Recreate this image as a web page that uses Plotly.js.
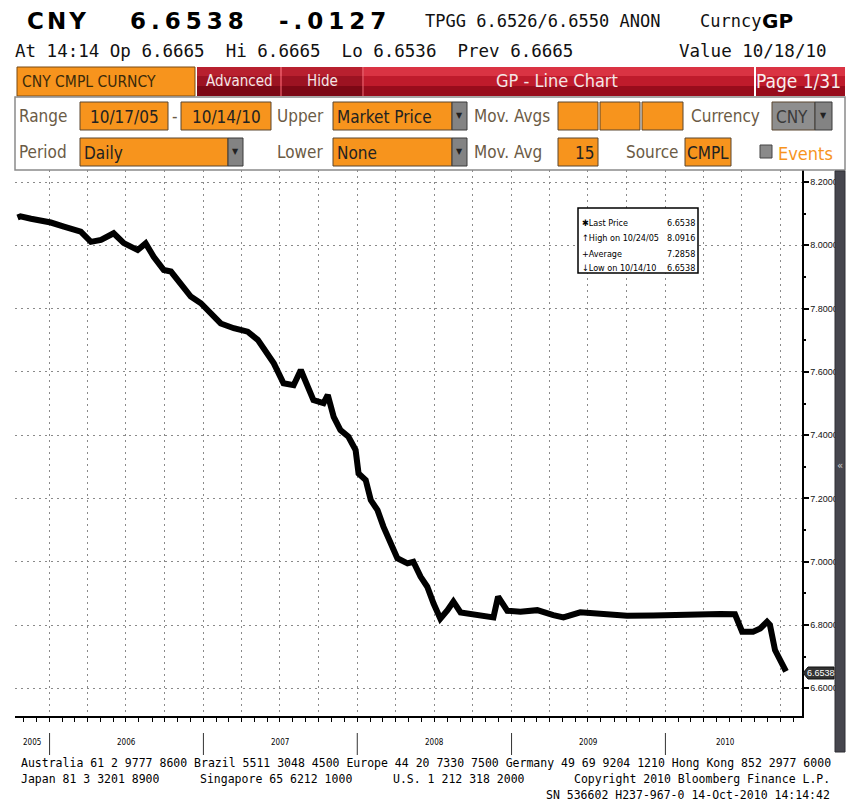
<!DOCTYPE html>
<html><head><meta charset="utf-8">
<script src="https://cdn.plot.ly/plotly-3.0.1.min.js"></script>
<style>html,body{margin:0;padding:0;background:#fff;overflow:hidden}#chart{width:849px;height:802px}</style>
</head><body><div id="chart"></div>
<script>
// ---- data ----
const dates = ['2005-10-17','2005-10-24','2005-11-18','2005-12-10','2006-01-04','2006-02-04','2006-03-16','2006-04-09','2006-05-03','2006-06-02','2006-06-26','2006-07-29','2006-08-17','2006-09-05','2006-09-29','2006-10-16','2006-11-08','2006-12-02','2006-12-26','2007-01-18','2007-02-11','2007-03-14','2007-04-16','2007-05-10','2007-06-03','2007-06-17','2007-07-10','2007-08-03','2007-08-20','2007-09-05','2007-09-19','2007-10-13','2007-10-23','2007-11-06','2007-11-22','2007-12-11','2007-12-28','2008-01-04','2008-01-21','2008-02-02','2008-02-18','2008-03-03','2008-03-20','2008-04-05','2008-04-29','2008-05-13','2008-05-30','2008-06-15','2008-06-30','2008-07-16','2008-08-02','2008-08-16','2008-09-02','2008-10-02','2008-11-04','2008-11-19','2008-11-30','2008-12-22','2009-01-22','2009-03-03','2009-04-10','2009-05-04','2009-06-13','2009-08-07','2009-10-02','2009-12-03','2010-02-22','2010-05-11','2010-06-15','2010-07-02','2010-07-28','2010-08-14','2010-08-30','2010-09-06','2010-09-18','2010-09-30','2010-10-14'];
const prices = [8.088,8.0916,8.084,8.080,8.072,8.059,8.043,8.011,8.017,8.038,8.007,7.985,8.006,7.964,7.922,7.917,7.880,7.838,7.817,7.785,7.753,7.738,7.727,7.701,7.659,7.627,7.564,7.558,7.606,7.553,7.511,7.501,7.527,7.458,7.416,7.395,7.353,7.279,7.258,7.195,7.163,7.111,7.058,7.011,6.995,7.000,6.953,6.921,6.868,6.820,6.847,6.874,6.840,6.834,6.831,6.824,6.890,6.845,6.842,6.847,6.831,6.824,6.840,6.836,6.829,6.830,6.834,6.835,6.834,6.779,6.779,6.789,6.810,6.800,6.721,6.689,6.6538];
const yTickVals = [6.6,6.8,7.0,7.2,7.4,7.6,7.8,8.0,8.2];
const yearLabels = ['2005','2006','2007','2008','2009','2010'];
const yearStarts = ['2006-01-01','2007-01-01','2008-01-01','2009-01-01','2010-01-01'];
const yearMids = ['2005-11-21','2006-07-02','2007-07-02','2008-07-02','2009-07-02','2010-05-23'];
const legendLabels = ['Last Price','High on 10/24/05','Average','Low on 10/14/10'];
const legendValues = ['6.6538','8.0916','7.2858','6.6538'];
const lastPrice = '6.6538';

// ---- geometry helpers (pixel -> paper) ----
const L=15,R=802,T=170,B=716;
const X=px=>(px-L)/(R-L), Y=py=>(B-py)/(B-T);
const shapes=[], annotations=[];
const NARROW='"Liberation Sans Narrow","DejaVu Sans Condensed","Arial Narrow",sans-serif';
const MONO='"DejaVu Sans Mono","Liberation Mono",monospace';
const BOLD='"DejaVu Sans",Verdana,sans-serif';
const LAB='#6b5b45';
function rect(x0,y0,x1,y1,fill,line,lw){shapes.push({type:'rect',xref:'paper',yref:'paper',x0:X(x0),x1:X(x1),y0:Y(y1),y1:Y(y0),fillcolor:fill,line:{color:line||fill,width:lw===undefined?1:lw},layer:'above'});}
function vline(x,y0,y1,c,w){shapes.push({type:'line',xref:'paper',yref:'paper',x0:X(x),x1:X(x),y0:Y(y0),y1:Y(y1),line:{color:c,width:w},layer:'above'});}
function txt(t,px,py,size,color,family,anchor){annotations.push({text:t,x:X(px),y:Y(py),xref:'paper',yref:'paper',xanchor:anchor||'left',yanchor:'middle',showarrow:false,borderpad:0,font:{size:size,color:color,family:family}});}
const nb=s=>s.replace(/ /g,'\u00a0');

// ---- header ----
txt('<b><span style="letter-spacing:3px">CNY</span></b>',26,21,23,'#000',BOLD);
txt('<b><span style="letter-spacing:5px">6.6538</span></b>',129,21,23,'#000',BOLD);
txt('<b><span style="letter-spacing:5px">-.0127</span></b>',278,21,23,'#000',BOLD);
txt(nb('TPGG 6.6526/6.6550 ANON'),424,21,17,'#111',MONO);
txt('Curncy',699,21,17,'#111',MONO);
txt('<b>GP</b>',761,21,20,'#000',BOLD);
txt(nb('At 14:14 Op 6.6665  Hi 6.6665  Lo 6.6536  Prev 6.6665'),14,51,17.5,'#111',MONO);
txt(nb('Value 10/18/10'),678,51,17.5,'#111',MONO);

// ---- red bar ----
rect(17,67,195,96,'#f7941d','#7a4a12',1);
txt('CNY CMPL CURNCY',21,82,15.5,'#3b2a0a',NARROW);
rect(197,67,845,76,'#da3343','#da3343',0);
rect(197,76,845,86,'#bf1b2c','#bf1b2c',0);
rect(197,86,845,96,'#980c1c','#980c1c',0);
rect(197,67,280,76,'#b8202f','#b8202f',0);rect(197,76,280,86,'#9c1322','#9c1322',0);rect(197,86,280,96,'#7c0815','#7c0815',0);
rect(282,67,362,76,'#b8202f','#b8202f',0);rect(282,76,362,86,'#9c1322','#9c1322',0);rect(282,86,362,96,'#7c0815','#7c0815',0);
vline(281,67,96,'#e46a74',1);vline(363,67,96,'#e46a74',1);
vline(755,67,96,'#ffffff',2);
txt('Advanced',239,81,15,'#f4e6e6',NARROW,'center');
txt('Hide',322,81,15,'#f4e6e6',NARROW,'center');
txt('GP - Line Chart',557,81,18,'#f4e6e6',NARROW,'center');
txt('Page 1/31',798,81,19,'#f8eeee',NARROW,'center');

// ---- control panel ----
const FS=17;
rect(15,97,845,170,'#ffffff','#8a8a8a',1.5);
function box(x0,y0,x1,y1,t,anchor,fill,tc){rect(x0,y0,x1,y1,fill||'#f7941d','#5a4630',1);if(t){const px=anchor==='center'?(x0+x1)/2:anchor==='right'?x1-3:x0+3;txt(t,px,(y0+y1)/2+1,FS,tc||'#222',NARROW,anchor||'left');}}
function dd(x0,y0,x1,y1){rect(x0,y0,x1,y1,'#838383','#3a3a3a',1);txt('▼',(x0+x1)/2,(y0+y1)/2,8,'#222',BOLD,'center');}
// row a
txt('Range',18,116,FS,LAB,NARROW);
box(80,102,168,130,'10/17/05','center');
txt('-',175,116,FS,LAB,NARROW,'center');
box(181,102,271,130,'10/14/10','center');
txt('Upper',276,116,FS,LAB,NARROW);
box(333,102,452,130,'Market Price','left');dd(452,102,467,130);
txt('Mov. Avgs',473,116,FS,LAB,NARROW);
box(558,102,598,130);box(600,102,640,130);box(642,102,683,130);
txt('Currency',690,116,FS,LAB,NARROW);
box(772,102,815,130,'CNY','left','#8e8e8e','#3a3a3a');dd(815,102,832,130);
// row b
txt('Period',18,152,FS,LAB,NARROW);
box(80,138,228,166,'Daily','left');dd(228,138,243,166);
txt('Lower',276,152,FS,LAB,NARROW);
box(333,138,452,166,'None','left');dd(452,138,467,166);
txt('Mov. Avg',473,152,FS,LAB,NARROW);
box(558,138,598,166,'15','right');
txt('Source',625,152,FS,LAB,NARROW);
box(685,138,731,166,'CMPL','center');
rect(760,145,772,158,'#8a8a8a','#444',1);
txt('Events',777,153,FS+1,'#f7941d',NARROW);

// ---- scrollbar on right ----
rect(835,171,845,752,'#46464e','#2e2e34',1);
txt('«',840,465,10,'#cfcfcf',BOLD,'center');

// ---- legend box ----
rect(578,208,698,273,'#ffffff','#000',1.5);
const legendSym=['✱','↑','+','↓'];
const legendY=[223,238,254,268];
legendLabels.forEach((s,i)=>{txt(legendSym[i]+s,581,legendY[i],9,'#000',NARROW);txt(legendValues[i],696,legendY[i],9,'#000',NARROW,'right');});

// ---- last price marker ----
shapes.push({type:'path',xref:'paper',yref:'paper',layer:'above',
  path:`M ${X(803)} ${Y(673)} L ${X(808)} ${Y(667)} L ${X(834)} ${Y(667)} L ${X(834)} ${Y(679)} L ${X(808)} ${Y(679)} Z`,
  fillcolor:'#333',line:{color:'#111',width:1}});
txt(lastPrice,821,673,9,'#fff','"Liberation Sans",Arial,sans-serif','center');

// ---- year labels + separators ----
yearLabels.forEach((y,i)=>annotations.push({text:y,x:yearMids[i],xref:'x',y:Y(742),yref:'paper',showarrow:false,yanchor:'middle',font:{size:8,color:'#000',family:NARROW}}));
yearStarts.forEach(d=>shapes.push({type:'line',xref:'x',yref:'paper',x0:d,x1:d,y0:Y(733),y1:Y(755),line:{color:'#333',width:1},layer:'above'}));

// ---- footer ----
txt(nb('Australia 61 2 9777 8600 Brazil 5511 3048 4500 Europe 44 20 7330 7500 Germany 49 69 9204 1210 Hong Kong 852 2977 6000'),20,763,11.5,'#000',MONO);
txt(nb('Japan 81 3 3201 8900'),20,779,11.5,'#000',MONO);
txt(nb('Singapore 65 6212 1000'),199,779,11.5,'#000',MONO);
txt(nb('U.S. 1 212 318 2000'),392,779,11.5,'#000',MONO);
txt(nb('Copyright 2010 Bloomberg Finance L.P.'),831,779,11.5,'#000',MONO,'right');
txt(nb('SN 536602 H237-967-0 14-Oct-2010 14:14:42'),831,795,11.5,'#000',MONO,'right');

const trace={x:dates,y:prices,type:'scatter',mode:'lines',line:{color:'#000',width:6},hoverinfo:'skip',showlegend:false};
const layout={
  width:849,height:802,margin:{l:L,r:849-R,t:T,b:802-B,pad:0},
  paper_bgcolor:'#fff',plot_bgcolor:'#fff',showlegend:false,
  xaxis:{type:'date',range:['2005-10-11','2010-11-21'],tickmode:'linear',tick0:'2006-01-01',dtick:'M3',
    showticklabels:false,ticks:'outside',ticklen:4,tickcolor:'#000',tickwidth:1,
    showgrid:true,gridcolor:'#8a8a8a',griddash:'2px,4px',gridwidth:1,
    showline:true,linecolor:'#000',linewidth:1.5,zeroline:false,automargin:false,
    minor:{tickmode:'linear',tick0:'2006-01-01',dtick:'M1',ticks:'outside',ticklen:4,tickcolor:'#000',showgrid:false}},
  yaxis:{side:'right',range:[6.5125,8.238],tickmode:'array',tickvals:yTickVals,ticktext:yTickVals.map(v=>v.toFixed(4)),
    tickfont:{size:9,color:'#111',family:'"Liberation Sans",Arial,sans-serif'},ticks:'outside',ticklen:5,tickwidth:2,tickcolor:'#000',
    showgrid:true,gridcolor:'#8a8a8a',griddash:'2px,4px',gridwidth:1,
    showline:true,linecolor:'#000',linewidth:1.5,zeroline:false,automargin:false,
    minor:{tickmode:'linear',tick0:6.5,dtick:0.1,ticks:'outside',ticklen:2,tickcolor:'#000',showgrid:false}},
  shapes:shapes,annotations:annotations
};
Plotly.newPlot('chart',[trace],layout,{staticPlot:true,displayModeBar:false});
</script></body></html>
